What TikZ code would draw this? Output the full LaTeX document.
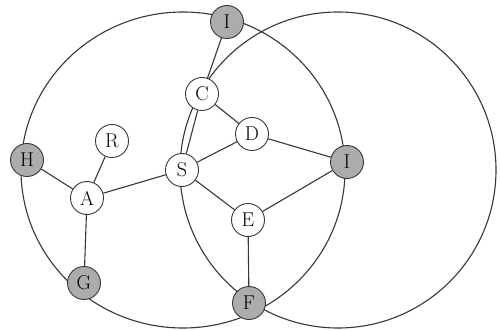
\documentclass[tikz,border=0pt]{standalone}
\usepackage{tikz}
\definecolor{HubGray}{RGB}{172,172,172}
\definecolor{LineGray}{RGB}{55,55,55}
\tikzset{
    vertex/.style={circle, draw=LineGray, fill=white, line width=0.9pt, minimum size=33pt, inner sep=0pt, font=\fontsize{20}{21}\selectfont},
    hub/.style={vertex, fill=HubGray},
    link/.style={draw=LineGray, line width=1.1pt},
    ring/.style={draw=LineGray, line width=1.1pt}
}

\begin{document}
\begin{tikzpicture}[x=1pt, y=-1pt]
    \useasboundingbox (0,0) rectangle (500,331);
    \draw[ring] (183,170) ellipse [x radius=162pt, y radius=158pt];
    \draw[ring] (338,170) circle [radius=158pt];

    \node[hub] (itop) at (227,22) {I};
    \node[hub] (h) at (27,160) {H};
    \node[hub] (g) at (84,283) {G};
    \node[hub] (f) at (249,303) {F};
    \node[hub] (iright) at (347,162) {I};
    \node[vertex] (r) at (112,141) {R};
    \node[vertex] (a) at (87,198) {A};
    \node[vertex] (s) at (182,170) {S};
    \node[vertex] (c) at (202,94) {C};
    \node[vertex] (d) at (252,134) {D};
    \node[vertex] (e) at (248,220) {E};

    \draw[link] (h) -- (a);
    \draw[link] (r) -- (a);
    \draw[link] (a) -- (s);
    \draw[link] (a) -- (g);
    \draw[link] (s) -- (c);
    \draw[link] (c) -- (itop);
    \draw[link] (c) -- (d);
    \draw[link] (s) -- (d);
    \draw[link] (d) -- (iright);
    \draw[link] (s) -- (e);
    \draw[link] (e) -- (iright);
    \draw[link] (e) -- (f);
\end{tikzpicture}
\end{document}
